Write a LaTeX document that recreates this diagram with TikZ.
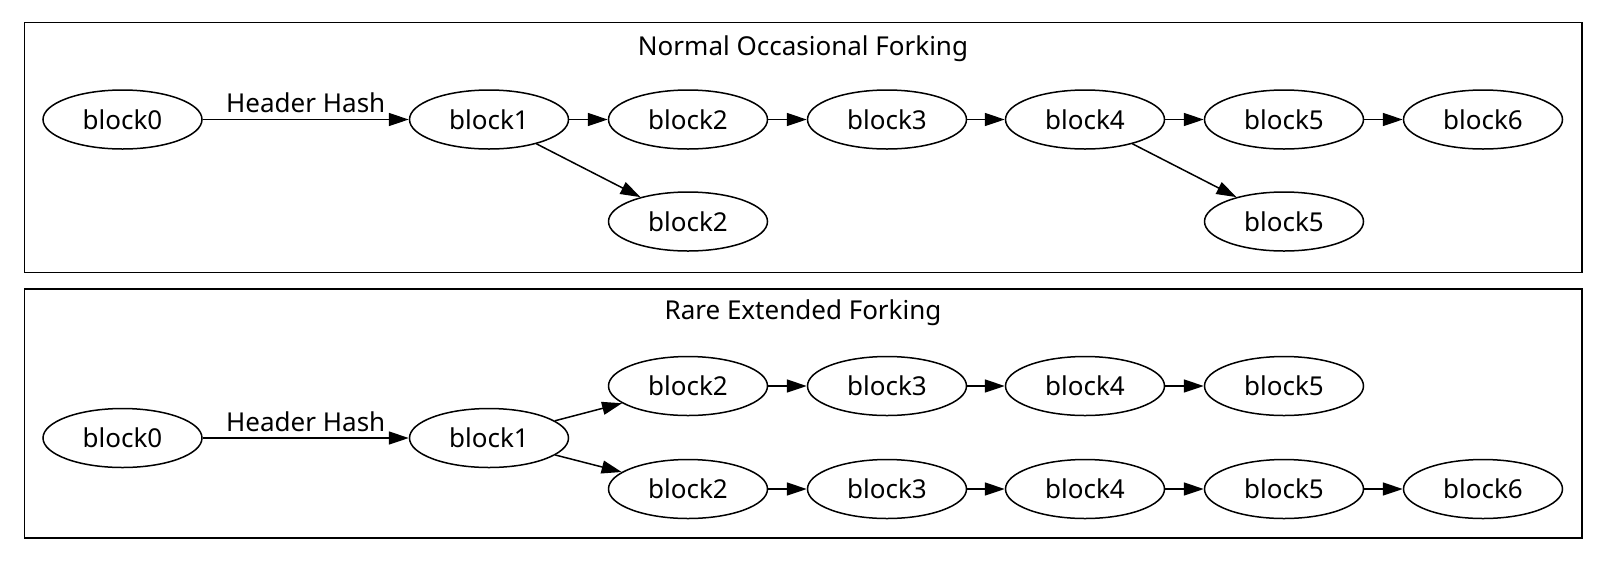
\documentclass[tikz,border=0pt]{standalone}
\usepackage{fontspec}
\setmainfont{Noto Sans}
\usetikzlibrary{shapes.geometric,arrows.meta}
\begin{document}
\begin{tikzpicture}[x=0.5pt,y=-0.5pt,
  blk/.style={ellipse,draw,line width=0.75pt,minimum width=79.5pt,minimum height=29.5pt,inner sep=0pt,font=\fontsize{13}{15}\selectfont},
  edge/.style={line width=0.75pt,-{Triangle[length=10pt,width=6.5pt]}},
  frame/.style={draw,line width=0.8pt},
  ttl/.style={font=\fontsize{13}{15}\selectfont,inner sep=0pt},
  lbl/.style={font=\fontsize{13}{15}\selectfont,inner sep=0pt}]
\useasboundingbox (0,0) rectangle (1600,563);
% top cluster
\draw[frame] (24.5,22.5) rectangle (1582,272.5);
\node[ttl] (t1) at (803,48.5) {Normal Occasional Forking};
\node[blk] (a0) at (122.5,119.5) {block0};
\node[blk] (a1) at (489,119.5) {block1};
\node[blk] (a2) at (688,119.5) {block2};
\node[blk] (a3) at (887,119.5) {block3};
\node[blk] (a4) at (1085,119.5) {block4};
\node[blk] (a5) at (1284,119.5) {block5};
\node[blk] (a6) at (1483,119.5) {block6};
\node[blk] (b2) at (688,221.5) {block2};
\node[blk] (b5) at (1284,221.5) {block5};
\draw[edge] (a0) -- node[lbl,above=3pt] (h1) {Header Hash} (a1);
\draw[edge] (a1) -- (a2);
\draw[edge] (a2) -- (a3);
\draw[edge] (a3) -- (a4);
\draw[edge] (a4) -- (a5);
\draw[edge] (a5) -- (a6);
\draw[edge] (a1) -- (b2);
\draw[edge] (a4) -- (b5);
% bottom cluster
\draw[frame] (24.5,289) rectangle (1582,538);
\node[ttl] (t2) at (803,312.5) {Rare Extended Forking};
\node[blk] (c0) at (122.5,438) {block0};
\node[blk] (c1) at (489,438) {block1};
\node[blk] (u2) at (688,386) {block2};
\node[blk] (u3) at (887,386) {block3};
\node[blk] (u4) at (1085,386) {block4};
\node[blk] (u5) at (1284,386) {block5};
\node[blk] (l2) at (688,489) {block2};
\node[blk] (l3) at (887,489) {block3};
\node[blk] (l4) at (1085,489) {block4};
\node[blk] (l5) at (1284,489) {block5};
\node[blk] (l6) at (1483,489) {block6};
\draw[edge] (c0) -- node[lbl,above=3pt] (h2) {Header Hash} (c1);
\draw[edge] (c1) -- (u2);
\draw[edge] (c1) -- (l2);
\draw[edge] (u2) -- (u3);
\draw[edge] (u3) -- (u4);
\draw[edge] (u4) -- (u5);
\draw[edge] (l2) -- (l3);
\draw[edge] (l3) -- (l4);
\draw[edge] (l4) -- (l5);
\draw[edge] (l5) -- (l6);
\end{tikzpicture}
\end{document}
